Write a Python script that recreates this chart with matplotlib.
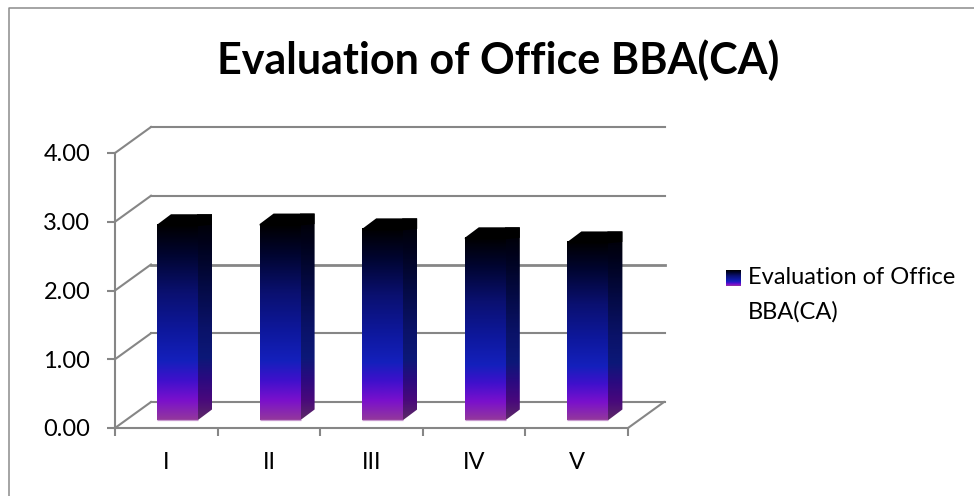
import numpy as np
import matplotlib.pyplot as plt
from matplotlib.colors import LinearSegmentedColormap
from matplotlib.lines import Line2D
from matplotlib.patches import Polygon, Rectangle

plt.rcParams['font.family'] = ['Lato', 'DejaVu Sans']

categories = ['I', 'II', 'III', 'IV', 'V']
values = [2.84, 2.85, 2.78, 2.65, 2.59]
y_ticks = [0, 1, 2, 3, 4]
series_lines = ['Evaluation of Office', 'BBA(CA)']
title = 'Evaluation of Office BBA(CA)'

W, H = 974, 496
GRID = '#868686'

# gradient runs bottom to top of each bar
grad = LinearSegmentedColormap.from_list('bar', [
    (0.0, '#93389c'), (0.1, '#7a10cc'), (0.2, '#4010cc'), (0.3, '#1420bc'),
    (0.45, '#0e189e'), (0.65, '#0a1070'), (0.85, '#00042e'), (1.0, '#000000')])
grad_side = LinearSegmentedColormap.from_list('bar_side', [
    (0.0, '#5c2a66'), (0.1, '#48087c'), (0.2, '#2a0a80'), (0.3, '#0c1878'),
    (0.45, '#0a1268'), (0.65, '#040a44'), (0.85, '#00021c'), (1.0, '#000000')])
ramp = np.linspace(1, 0, 256).reshape(-1, 1)

fig = plt.figure(figsize=(W / 100, H / 100), dpi=100)
fig.patch.set_facecolor('white')

# chart frame only shows on the left and top
fig.add_artist(Line2D([8.5 / W, 8.5 / W, 1], [0, 1 - 7.5 / H, 1 - 7.5 / H], color='#8c8c8c', lw=1.1))

# axes box: front corner of the floor to the far end of the back wall
ax = fig.add_axes([115 / W, 1 - 428 / H, 550 / W, 301 / H])
unit_x = 102.6
unit_y = 68.75
ax.patch.set_visible(False)

# wall depth and bar geometry, in data units
dx = 36 / unit_x
dy = 26 / unit_y
bar_off = 42 / unit_x
bar_w = 41 / unit_x
bar_dx = 14 / unit_x
bar_dy = 10.5 / unit_y
bar_y0 = 8 / unit_y
seam = 1 / unit_x

for t in y_ticks:
    lw = 2.0 if t == 2 else 1.5
    ax.plot([dx, 550 / unit_x], [t + dy, t + dy], color=GRID, lw=lw, clip_on=False, zorder=1)
    ax.plot([0, dx], [t, t + dy], color=GRID, lw=1.5, clip_on=False, zorder=1)
n = len(categories)
ax.plot([n, n + dx], [0, dy], color=GRID, lw=1.5, clip_on=False, zorder=1)

for i, v in enumerate(values):
    x0 = i + bar_off
    x1 = x0 + bar_w
    top = bar_y0 + v

    # side first, running under the front face so no seam shows
    side = Polygon([(x1 - seam, bar_y0), (x1, bar_y0), (x1 + bar_dx, bar_y0 + bar_dy), (x1 + bar_dx, top + bar_dy),
                    (x1 - seam, top + bar_dy)], transform=ax.transData)
    im = ax.imshow(ramp, cmap=grad_side, extent=(x1 - seam, x1 + bar_dx, bar_y0, top + bar_dy), aspect='auto',
                   zorder=2, vmin=0, vmax=1)
    im.set_clip_path(side)

    ax.imshow(ramp, cmap=grad, extent=(x0, x1, bar_y0, top), aspect='auto', zorder=3, vmin=0, vmax=1)

    ax.add_patch(Polygon([(x0, top - 0.02), (x1, top - 0.02), (x1 + bar_dx, top), (x1 + bar_dx, top + bar_dy),
                          (x0 + bar_dx, top + bar_dy), (x0, top)],
                         facecolor='black', edgecolor='none', zorder=4))
    ax.plot([x0, x1], [bar_y0, bar_y0], color='#c89ad0', lw=0.9, zorder=4, solid_capstyle='butt')

ax.set_xlim(0, 550 / unit_x)
ax.set_ylim(0, 301 / unit_y)

for s in ['top', 'right']:
    ax.spines[s].set_visible(False)
for s in ['left', 'bottom']:
    ax.spines[s].set_color(GRID)
    ax.spines[s].set_linewidth(1.5)
ax.spines['left'].set_bounds(0, 4)
ax.spines['bottom'].set_bounds(0, n)

ax.set_yticks(y_ticks)
ax.set_yticklabels(['{:.2f}'.format(t) for t in y_ticks], fontsize=17, color='black')
ax.set_xticks(range(n + 1))
ax.set_xticklabels([])
ax.set_xticks(np.arange(n) + 0.5, minor=True)
ax.set_xticklabels(categories, minor=True, fontsize=17, color='black')
ax.tick_params(axis='y', length=5.8, width=1.5, color=GRID, pad=12)
ax.tick_params(axis='x', which='major', length=5.8, width=1.5, color=GRID)
ax.tick_params(axis='x', which='minor', length=0, pad=17)

fig.text(498 / W, 1 - 60 / H, title, fontsize=31, fontweight='bold', ha='center', va='center', color='black')

# legend swatch and text
lax = fig.add_axes([726 / W, 1 - 286 / H, 15 / W, 16 / H])
lax.imshow(ramp, cmap=grad, aspect='auto', vmin=0, vmax=1)
lax.axis('off')
fig.text(748 / W, 1 - 277 / H, series_lines[0], fontsize=17, ha='left', va='center')
fig.text(748 / W, 1 - 312 / H, series_lines[1], fontsize=17, ha='left', va='center')

fig.savefig('out.png', dpi=100)
